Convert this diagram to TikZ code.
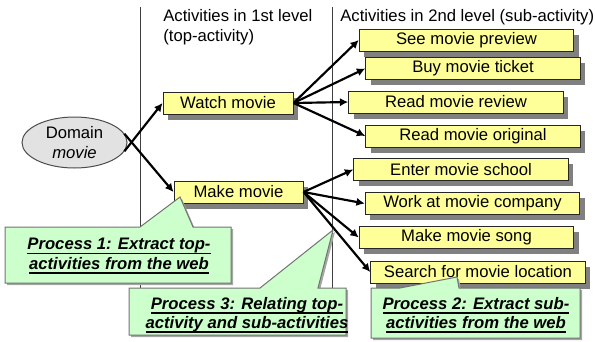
\documentclass[tikz,border=0pt]{standalone}
\usepackage{fontspec}
\setmainfont{Liberation Sans}
\usetikzlibrary{shapes.geometric,shadows,arrows.meta}
\definecolor{boxyellow}{HTML}{FFFF99}
\definecolor{notegreen}{HTML}{CCFFCC}
\definecolor{domaingray}{HTML}{E2E2E2}
% thick underline for the process captions
\newsavebox\ulbox
\newcommand\thickul[1]{\sbox\ulbox{#1}\rlap{\rule[-2.6pt]{\wd\ulbox}{0.9pt}}\usebox\ulbox}
\begin{document}
\begin{tikzpicture}[x=0.6pt,y=-0.6pt,
  font=\fontsize{10}{11.6}\selectfont,
  divider/.style={draw=black!75, line width=0.6pt},
  actbox/.style={draw=black!85, line width=0.6pt, fill=boxyellow,
    minimum height=13.2pt, inner sep=0pt,
    drop shadow={shadow xshift=3pt, shadow yshift=-3.3pt, fill=black!50, opacity=1}},
  subbox/.style={actbox, minimum width=128.7pt},
  arr/.style={draw=black, line width=1.3pt, -{Latex[length=5pt,width=5pt]}},
  callout/.style={draw=black!55, line width=0.6pt, fill=notegreen,
    drop shadow={shadow xshift=1.2pt, shadow yshift=-1.2pt, fill=black!35, opacity=1}},
  note/.style={align=center, inner sep=0pt, font=\fontsize{10}{11.6}\selectfont\bfseries\itshape},
  header/.style={anchor=base west, inner sep=0pt}
]
\useasboundingbox (0,0) rectangle (595,341);

% column dividers
\coordinate (d1top) at (140,7);
\coordinate (d1bot) at (140,290);
\coordinate (d2top) at (332,7);
\coordinate (d2bot) at (332,290);
\draw[divider] (d1top) -- (d1bot);
\draw[divider] (d2top) -- (d2bot);

% column headings
\node[header] (h1a) at (163,21) {Activities in 1st level};
\node[header] (h1b) at (163,41) {(top-activity)};
\node[header] (h2) at (340,21) {Activities in 2nd level (sub-activity)};

% domain
\node[ellipse, draw=black!70, line width=0.6pt, fill=domaingray,
      minimum width=63pt, minimum height=30.6pt, inner sep=0pt, align=center]
      (domain) at (74.5,142.5) {Domain\\\textit{movie}};

% top-activities
\node[actbox, minimum width=78pt] (watch) at (228,103) {Watch movie};
\node[actbox, minimum width=77.4pt] (make) at (238.5,192) {Make movie};

% sub-activities
\node[subbox] (s1) at (466.5,40) {See movie preview};
\node[subbox] (s2) at (473,68.5) {Buy movie ticket};
\node[subbox] (s3) at (456,102) {Read movie review};
\node[subbox] (s4) at (473,136) {Read movie original};
\node[subbox] (s5) at (461,169.5) {Enter movie school};
\node[subbox] (s6) at (472.5,203.5) {Work at movie company};
\node[subbox] (s7) at (466.5,237.5) {Make movie song};
\node[subbox] (s8) at (478,272) {Search for movie location};

% connectors
\draw[arr] (domain.-10) -- (watch.west);
\draw[arr] (domain.10) -- (make.west);
\foreach \s in {s1,s2,s3,s4} \draw[arr] (watch.east) -- (\s.west);
\foreach \s in {s5,s6,s7,s8} \draw[arr] (make.east) -- (\s.west);

% process callouts
\path[callout] (5,227) -- (140,227) -- (180,197) -- (193,227) -- (231,227)
  -- (231,283) -- (5,283) -- cycle;
\node[note] (p1) at (119,256) {\thickul{Process 1: Extract top-}\\\thickul{activities from the web}};

\path[callout] (129,288) -- (260,288) -- (333,230) -- (318,288) -- (346,288)
  -- (346,335) -- (129,335) -- cycle;
\node[note] (p3) at (247,315) {\thickul{Process 3: Relating top-}\\\thickul{activity and sub-activities}};

\path[callout] (371,288) -- (400,288) -- (457,277) -- (459,288) -- (580,288)
  -- (580,338) -- (371,338) -- cycle;
\node[note] (p2) at (476,315) {\thickul{Process 2: Extract sub-}\\\thickul{activities from the web}};
\end{tikzpicture}
\end{document}
